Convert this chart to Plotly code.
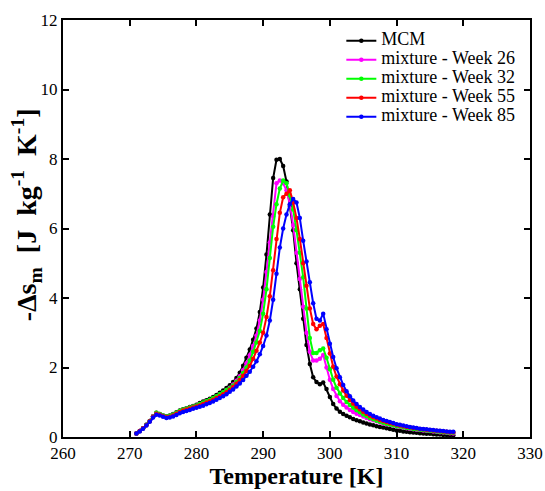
import plotly.graph_objects as go

temperature = [271.0, 271.5, 272.0, 272.5, 273.0, 273.5, 274.0, 274.5, 275.0, 275.5,
               276.0, 276.5, 277.0, 277.5, 278.0, 278.5, 279.0, 279.5, 280.0, 280.5,
               281.0, 281.5, 282.0, 282.5, 283.0, 283.5, 284.0, 284.5, 285.0, 285.5,
               286.0, 286.5, 287.0, 287.5, 288.0, 288.5, 289.0, 289.5, 290.0, 290.5,
               291.0, 291.5, 292.0, 292.5, 293.0, 293.5, 294.0, 294.5, 295.0, 295.5,
               296.0, 296.5, 297.0, 297.5, 298.0, 298.5, 299.0, 299.5, 300.0, 300.5,
               301.0, 301.5, 302.0, 302.5, 303.0, 303.5, 304.0, 304.5, 305.0, 305.5,
               306.0, 306.5, 307.0, 307.5, 308.0, 308.5, 309.0, 309.5, 310.0, 310.5,
               311.0, 311.5, 312.0, 312.5, 313.0, 313.5, 314.0, 314.5, 315.0, 315.5,
               316.0, 316.5, 317.0, 317.5, 318.0, 318.5]

mcm = [0.10, 0.17, 0.25, 0.35, 0.46, 0.60, 0.70, 0.66, 0.62, 0.60,
       0.62, 0.66, 0.71, 0.76, 0.80, 0.83, 0.86, 0.89, 0.93, 0.98,
       1.02, 1.06, 1.10, 1.15, 1.21, 1.27, 1.34, 1.41, 1.49, 1.58,
       1.70, 1.85, 2.05, 2.28, 2.52, 2.80, 3.12, 3.60, 4.30, 5.25,
       6.40, 7.45, 7.98, 8.00, 7.80, 7.35, 6.65, 5.95, 5.00, 4.25,
       3.40, 2.65, 2.10, 1.72, 1.58, 1.52, 1.57, 1.38, 1.15, 0.95,
       0.82, 0.73, 0.66, 0.61, 0.57, 0.52, 0.48, 0.45, 0.42, 0.39,
       0.36, 0.34, 0.31, 0.29, 0.27, 0.25, 0.23, 0.21, 0.19, 0.18,
       0.16, 0.15, 0.14, 0.13, 0.12, 0.11, 0.10, 0.09, 0.09, 0.08,
       0.07, 0.07, 0.06, 0.06, 0.05, 0.05]

week26 = [0.10, 0.17, 0.25, 0.35, 0.46, 0.60, 0.69, 0.65, 0.61, 0.58,
          0.60, 0.64, 0.69, 0.74, 0.78, 0.81, 0.84, 0.87, 0.90, 0.94,
          0.98, 1.02, 1.06, 1.11, 1.16, 1.22, 1.28, 1.35, 1.42, 1.51,
          1.62, 1.75, 1.92, 2.12, 2.35, 2.62, 2.92, 3.35, 3.95, 4.75,
          5.60, 6.35, 7.30, 7.38, 7.30, 7.10, 6.70, 6.10, 5.30, 4.55,
          3.75, 3.00, 2.45, 2.20, 2.20, 2.25, 2.36, 2.00, 1.65, 1.38,
          1.18, 1.03, 0.93, 0.85, 0.78, 0.72, 0.67, 0.63, 0.59, 0.55,
          0.51, 0.48, 0.45, 0.42, 0.39, 0.37, 0.35, 0.33, 0.31, 0.29,
          0.27, 0.25, 0.24, 0.22, 0.21, 0.20, 0.19, 0.18, 0.17, 0.16,
          0.15, 0.14, 0.13, 0.12, 0.11, 0.10]

week32 = [0.10, 0.17, 0.25, 0.35, 0.46, 0.59, 0.70, 0.66, 0.62, 0.59,
          0.61, 0.65, 0.70, 0.75, 0.79, 0.82, 0.85, 0.88, 0.91, 0.95,
          0.99, 1.03, 1.07, 1.12, 1.17, 1.23, 1.29, 1.35, 1.40, 1.48,
          1.58, 1.70, 1.84, 2.00, 2.20, 2.45, 2.72, 3.05, 3.55, 4.25,
          5.15, 6.05, 6.70, 7.15, 7.38, 7.30, 6.95, 6.55, 5.95, 5.30,
          4.60, 3.70, 2.85, 2.42, 2.42, 2.50, 2.55, 2.28, 1.95, 1.65,
          1.42, 1.25, 1.12, 1.01, 0.92, 0.84, 0.77, 0.71, 0.65, 0.60,
          0.55, 0.51, 0.47, 0.44, 0.41, 0.38, 0.36, 0.34, 0.32, 0.30,
          0.28, 0.26, 0.25, 0.23, 0.22, 0.21, 0.20, 0.19, 0.18, 0.17,
          0.16, 0.15, 0.14, 0.13, 0.12, 0.12]

week55 = [0.10, 0.17, 0.25, 0.34, 0.45, 0.58, 0.67, 0.64, 0.60, 0.57,
          0.58, 0.62, 0.67, 0.72, 0.76, 0.79, 0.82, 0.85, 0.88, 0.91,
          0.95, 0.99, 1.03, 1.07, 1.12, 1.17, 1.23, 1.29, 1.36, 1.44,
          1.53, 1.64, 1.76, 1.90, 2.05, 2.25, 2.48, 2.72, 3.00, 3.45,
          4.05, 4.80, 5.70, 6.45, 6.90, 7.00, 7.10, 6.75, 6.30, 5.70,
          5.00, 4.35, 3.70, 3.25, 3.10, 3.20, 3.25, 2.85, 2.40, 2.02,
          1.74, 1.52, 1.34, 1.19, 1.06, 0.96, 0.87, 0.80, 0.73, 0.67,
          0.61, 0.57, 0.53, 0.49, 0.46, 0.43, 0.40, 0.38, 0.35, 0.33,
          0.31, 0.29, 0.28, 0.26, 0.25, 0.23, 0.22, 0.21, 0.20, 0.19,
          0.18, 0.17, 0.16, 0.15, 0.14, 0.14]

week85 = [0.10, 0.16, 0.24, 0.33, 0.44, 0.56, 0.64, 0.62, 0.58, 0.55,
          0.56, 0.59, 0.63, 0.68, 0.72, 0.75, 0.78, 0.81, 0.84, 0.87,
          0.90, 0.94, 0.98, 1.02, 1.07, 1.12, 1.17, 1.23, 1.30, 1.37,
          1.45, 1.54, 1.64, 1.76, 1.88, 2.02, 2.18, 2.38, 2.62, 2.92,
          3.35, 3.95, 4.70, 5.45, 6.00, 6.40, 6.70, 6.85, 6.75, 6.30,
          5.65, 5.05, 4.45, 3.85, 3.40, 3.35, 3.55, 3.10, 2.68, 2.30,
          1.98, 1.72, 1.50, 1.32, 1.17, 1.05, 0.95, 0.86, 0.79, 0.72,
          0.66, 0.61, 0.57, 0.53, 0.49, 0.46, 0.43, 0.40, 0.37, 0.35,
          0.33, 0.31, 0.29, 0.27, 0.26, 0.24, 0.23, 0.22, 0.21, 0.20,
          0.19, 0.18, 0.17, 0.16, 0.15, 0.15]

series_names = ["MCM", "mixture - Week 26", "mixture - Week 32",
                "mixture - Week 55", "mixture - Week 85"]
series_values = [mcm, week26, week32, week55, week85]
series_colors = ["#000000", "#ff00ff", "#00ff00", "#ff0000", "#0000ff"]

x_ticks = [260, 270, 280, 290, 300, 310, 320, 330]
y_ticks = [0, 2, 4, 6, 8, 10, 12]

FONT = "Liberation Serif"

fig = go.Figure()
for name, vals, col in zip(series_names, series_values, series_colors):
    fig.add_trace(go.Scatter(
        x=temperature, y=vals,
        name='<span style="font-size:18px">' + name + '</span>',
        mode="lines+markers",
        line=dict(color=col, width=2),
        marker=dict(color=col, size=4.5, symbol="circle"),
    ))

axis_common = dict(
    showline=True, linecolor="black", linewidth=2, mirror="ticks",
    ticks="inside", ticklen=6, tickwidth=2, tickcolor="black",
    showgrid=False, zeroline=False, automargin=False,
    tickfont=dict(family=FONT, size=17, color="black"),
)

fig.update_layout(
    width=545, height=491,
    margin=dict(l=63, r=15, t=20, b=54),
    paper_bgcolor="white", plot_bgcolor="white",
    font=dict(family=FONT, color="black"),
    showlegend=True,
    legend=dict(
        x=0.596, y=0.985, xanchor="left", yanchor="top",
        bgcolor="rgba(255,255,255,0)", borderwidth=0,
        font=dict(family=FONT, size=12, color="black"),
        tracegroupgap=0, itemsizing="trace",
    ),
    xaxis=dict(
        range=[260, 330], tickvals=x_ticks,
        title=dict(text="<b>Temperature [K]</b>", font=dict(family=FONT, size=24), standoff=0),
        **axis_common,
    ),
    yaxis=dict(
        range=[0, 12], tickvals=y_ticks,
        **axis_common,
    ),
    annotations=[dict(
        text="<b>-Δs<sub>m</sub>&nbsp; [J&nbsp; kg<sup>-1</sup>&nbsp; K<sup>-1</sup>]</b>",
        font=dict(family=FONT, size=28, color="black"),
        textangle=-90, showarrow=False,
        xref="paper", yref="paper", x=-0.079, y=0.532,
        xanchor="center", yanchor="middle",
    )],
)

fig.write_html("out.html")
